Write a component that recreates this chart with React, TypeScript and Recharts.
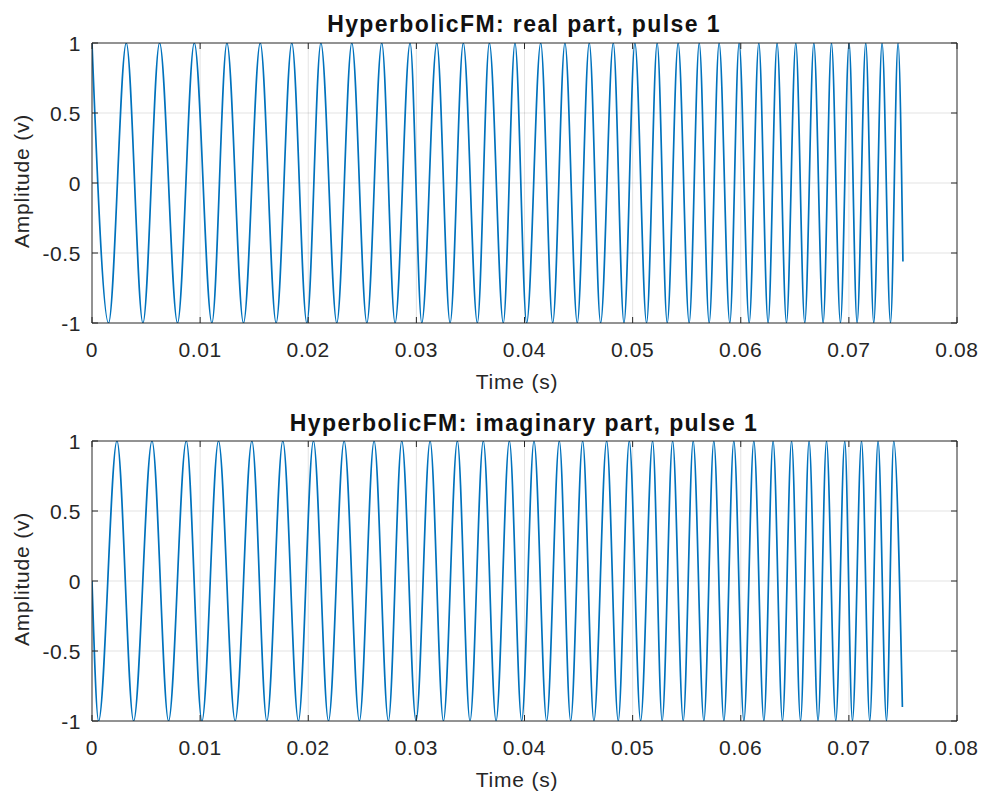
import React from "react";
import { LineChart, Line, XAxis, YAxis, CartesianGrid } from "recharts";

// axis ticks
const xTicks = [0, 0.01, 0.02, 0.03, 0.04, 0.05, 0.06, 0.07, 0.08];
const yTicks = [-1, -0.5, 0, 0.5, 1];

const realPeaksMs = [
  0, 3.17, 6.25, 9.46, 12.48, 15.56, 18.48, 21.17, 24.03, 26.8, 29.42, 31.89,
  34.34, 36.75, 39.12, 41.5, 43.74, 45.99, 48.21, 50.21, 52.27, 54.21, 56.16,
  58.0, 59.85, 61.67, 63.36, 65.09, 66.76, 68.39, 70.02, 71.56, 73.07, 74.55,
];
const realTroughsMs = [
  1.53, 4.71, 7.91, 11.09, 14.01, 17.03, 19.87, 22.64, 25.42, 28.03, 30.5,
  33.12, 35.64, 38.04, 40.2, 42.61, 44.88, 47.04, 49.2, 51.29, 53.2, 55.23,
  57.08, 58.99, 60.78, 62.53, 64.23, 65.92, 67.62, 69.22, 70.76, 72.3, 73.85,
];
const realEnd: [number, number] = [75.0, -0.56];

// imaginary part
const imagStart: [number, number] = [0, 0];
const imagPeaksMs = [
  2.31, 5.55, 8.72, 11.7, 14.79, 17.65, 20.48, 23.32, 26.09, 28.65, 31.27,
  33.79, 36.19, 38.6, 40.88, 43.22, 45.38, 47.6, 49.69, 51.85, 53.7, 55.6,
  57.51, 59.36, 61.21, 62.99, 64.7, 66.32, 67.93, 69.62, 71.17, 72.7, 74.15,
];
const imagTroughsMs = [
  0.61, 3.85, 7.08, 10.17, 13.24, 16.17, 19.09, 21.87, 24.73, 27.41, 29.97,
  32.5, 34.96, 37.37, 39.74, 42.05, 44.27, 46.42, 48.67, 50.74, 52.73, 54.68,
  56.59, 58.44, 60.29, 62.14, 63.86, 65.53, 67.15, 68.79, 70.33, 71.93, 73.48,
];
const imagEnd: [number, number] = [74.95, -0.9];

type Pt = { t: number; v: number };

function buildSeries(
  peaks: number[],
  troughs: number[],
  extra: [number, number][]
): Pt[] {
  const pts: [number, number][] = [
    ...peaks.map((ms) => [ms, 1] as [number, number]),
    ...troughs.map((ms) => [ms, -1] as [number, number]),
    ...extra,
  ];
  return pts
    .sort((a, b) => a[0] - b[0])
    .map(([ms, v]) => ({ t: ms / 1000, v }));
}

const realData = buildSeries(realPeaksMs, realTroughsMs, [realEnd]);
const imagData = buildSeries(imagPeaksMs, imagTroughsMs, [imagStart, imagEnd]);

const FONT = '"Liberation Sans", Arial, Helvetica, sans-serif';
const INK = "#262626";
const TICK_LEN = 6;

function BottomTick(props: any) {
  const { x, y, payload } = props;
  return (
    <g>
      <line x1={x} x2={x} y1={y} y2={y - TICK_LEN} stroke={INK} />
      <text
        x={x}
        y={y + 34}
        textAnchor="middle"
        fill={INK}
        fontSize={21}
        fontFamily={FONT}
        letterSpacing={0.6}
      >
        {String(payload.value)}
      </text>
    </g>
  );
}

function TopTick(props: any) {
  const { x, y } = props;
  return <line x1={x} x2={x} y1={y} y2={y + TICK_LEN} stroke={INK} />;
}

function LeftTick(props: any) {
  const { x, y, payload } = props;
  return (
    <g>
      <line x1={x} x2={x + TICK_LEN} y1={y} y2={y} stroke={INK} />
      <text
        x={x - 11}
        y={y + 7.5}
        textAnchor="end"
        fill={INK}
        fontSize={21}
        fontFamily={FONT}
        letterSpacing={0.6}
      >
        {String(payload.value)}
      </text>
    </g>
  );
}

function RightTick(props: any) {
  const { x, y } = props;
  return <line x1={x} x2={x - TICK_LEN} y1={y} y2={y} stroke={INK} />;
}

function PulsePanel({ data }: { data: Pt[] }) {
  return (
    <LineChart
      width={984}
      height={398}
      data={data}
      margin={{ top: 42, right: 26, bottom: 74, left: 0 }}
    >
      <CartesianGrid
        xAxisId="b"
        yAxisId="l"
        stroke={INK}
        strokeOpacity={0.13}
        verticalValues={xTicks.slice(1, -1)}
        horizontalValues={yTicks.slice(1, -1)}
      />
      <XAxis
        xAxisId="b"
        dataKey="t"
        type="number"
        domain={[0, 0.08]}
        ticks={xTicks}
        interval={0}
        height={1}
        tickSize={0}
        tickMargin={0}
        tickLine={false}
        axisLine={{ stroke: INK }}
        tick={(p: any) => <BottomTick {...p} />}
        allowDataOverflow
      />
      <XAxis
        xAxisId="t"
        orientation="top"
        dataKey="t"
        type="number"
        domain={[0, 0.08]}
        ticks={xTicks}
        interval={0}
        height={1}
        tickSize={0}
        tickMargin={0}
        tickLine={false}
        axisLine={{ stroke: INK }}
        tick={(p: any) => <TopTick {...p} />}
        allowDataOverflow
      />
      <YAxis
        yAxisId="l"
        type="number"
        domain={[-1, 1]}
        ticks={yTicks}
        interval={0}
        width={92}
        tickSize={0}
        tickMargin={0}
        tickLine={false}
        axisLine={{ stroke: INK }}
        tick={(p: any) => <LeftTick {...p} />}
        allowDataOverflow
      />
      <YAxis
        yAxisId="r"
        orientation="right"
        type="number"
        domain={[-1, 1]}
        ticks={yTicks}
        interval={0}
        width={1}
        tickSize={0}
        tickMargin={0}
        tickLine={false}
        axisLine={{ stroke: INK }}
        tick={(p: any) => <RightTick {...p} />}
        allowDataOverflow
      />
      <Line
        xAxisId="b"
        yAxisId="l"
        dataKey="v"
        type="monotone"
        stroke="#0072BD"
        strokeWidth={1.7}
        dot={false}
        isAnimationActive={false}
      />
    </LineChart>
  );
}

const titleStyle = {
  fontFamily: FONT,
  fontSize: 23,
  fontWeight: 700,
  letterSpacing: 1.4,
  fill: "#111",
};
const labelStyle = {
  fontFamily: FONT,
  fontSize: 21,
  letterSpacing: 0.8,
  fill: INK,
};

export default function App() {
  return (
    <div
      style={{
        position: "absolute",
        left: 0,
        top: 0,
        width: 984,
        height: 796,
        background: "#fff",
      }}
    >
      <div style={{ position: "absolute", left: 0, top: 0 }}>
        <PulsePanel data={realData} />
      </div>
      <div style={{ position: "absolute", left: 0, top: 398 }}>
        <PulsePanel data={imagData} />
      </div>
      <svg
        width={984}
        height={796}
        style={{ position: "absolute", left: 0, top: 0, pointerEvents: "none" }}
      >
        <text x={524} y={31.5} textAnchor="middle" style={titleStyle}>
          HyperbolicFM: real part, pulse 1
        </text>
        <text x={524} y={431} textAnchor="middle" style={titleStyle}>
          HyperbolicFM: imaginary part, pulse 1
        </text>
        <text x={517} y={389} textAnchor="middle" style={labelStyle}>
          Time (s)
        </text>
        <text x={517} y={787} textAnchor="middle" style={labelStyle}>
          Time (s)
        </text>
        <text
          x={0}
          y={0}
          textAnchor="middle"
          transform="translate(29,181) rotate(-90)"
          style={labelStyle}
        >
          Amplitude (v)
        </text>
        <text
          x={0}
          y={0}
          textAnchor="middle"
          transform="translate(29,579) rotate(-90)"
          style={labelStyle}
        >
          Amplitude (v)
        </text>
      </svg>
    </div>
  );
}
